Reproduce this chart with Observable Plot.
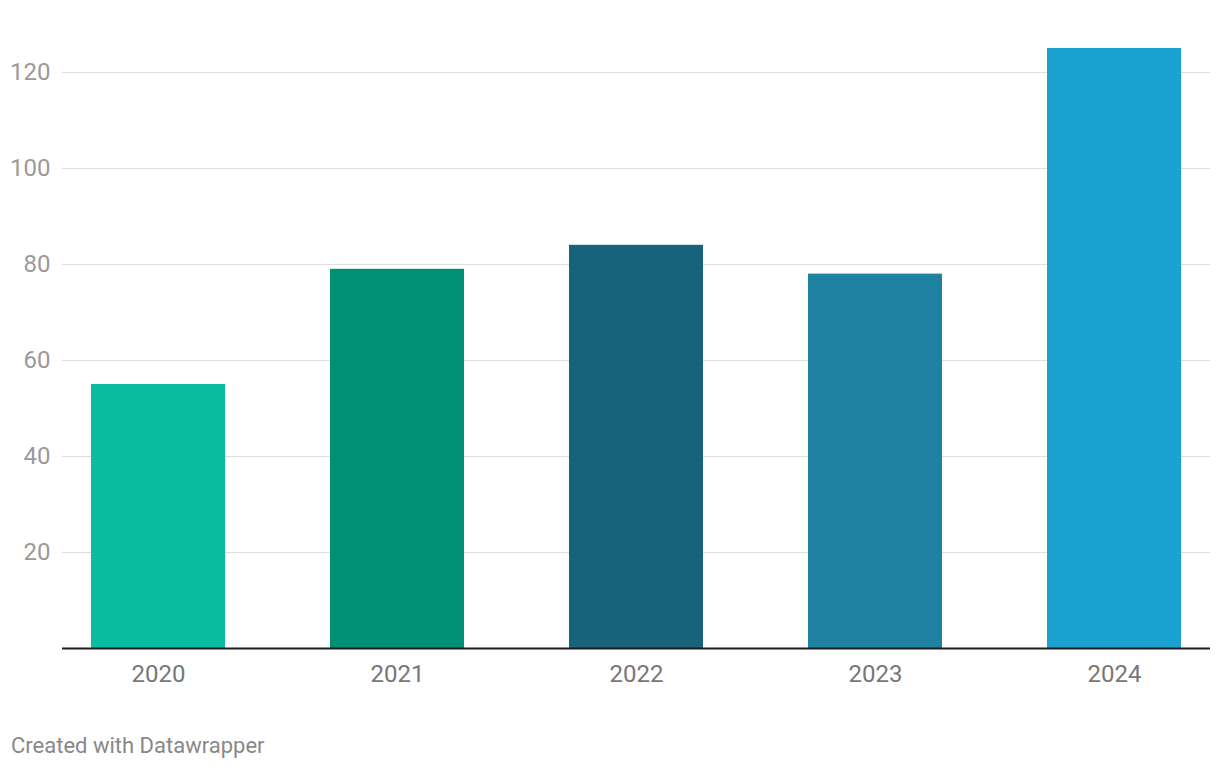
<!DOCTYPE html>
<html>
<head>
<meta charset="utf-8">
<script src="https://cdn.jsdelivr.net/npm/d3@7"></script>
<script src="https://cdn.jsdelivr.net/npm/@observablehq/plot@0.6"></script>
<style>
  body { margin: 0; background: #fff; font-family: Roboto, "Noto Sans", sans-serif; }
  #caption { margin-top: 34px; padding-left: 11px; font-size: 22px; line-height: 24px; color: #888; }
</style>
</head>
<body>
<div id="chart"></div>
<div id="caption">Created with Datawrapper</div>
<script>
const years = ["2020", "2021", "2022", "2023", "2024"];
const values = [55, 79, 84, 78, 125];
const barColors = ["#0abda0", "#009175", "#17637b", "#1f82a3", "#1aa1cf"];
const yTicks = [20, 40, 60, 80, 100, 120];

const data = years.map((y, i) => ({year: y, value: values[i]}));

const chart = Plot.plot({
  width: 1220,
  height: 700,
  marginTop: 48,
  marginBottom: 52,
  marginLeft: 62,
  marginRight: 10,
  style: {fontFamily: "Roboto, sans-serif", background: "#fff"},
  x: {domain: years, paddingInner: 0.44, paddingOuter: 0.12, label: null},
  y: {domain: [0, 125], label: null},
  color: {domain: years, range: barColors},
  marks: [
    Plot.ruleY(yTicks, {stroke: "#dedede", strokeWidth: 1}),
    Plot.barY(data, {x: "year", y: "value", fill: "year"}),
    Plot.ruleY([0], {stroke: "#1d1d1d", strokeWidth: 2}),
    Plot.axisY(yTicks, {tickSize: 0, tickPadding: 12, fontSize: 24, fill: "#9a9a9a", label: null}),
    Plot.axisX({tickSize: 0, tickPadding: 16, fontSize: 24, fill: "#777", label: null})
  ]
});
document.getElementById("chart").appendChild(chart);
</script>
</body>
</html>
